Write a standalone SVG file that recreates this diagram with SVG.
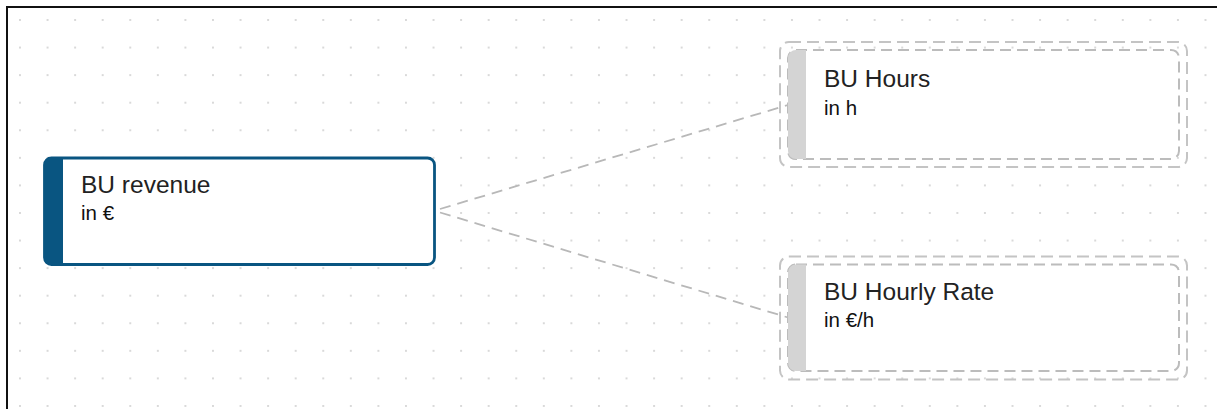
<svg xmlns="http://www.w3.org/2000/svg" width="1217" height="409" viewBox="0 0 1217 409">
  <defs>
    <pattern id="dots" patternUnits="userSpaceOnUse" x="6.2" y="6.2" width="27.57" height="27.57">
      <circle cx="13.8" cy="13.8" r="1" fill="#cccccc"/>
    </pattern>
    <style>
      .title { font-family: "Liberation Sans", Arial, sans-serif; font-size: 24.5px; fill: #222222; }
      .unit { font-family: "Liberation Sans", Arial, sans-serif; font-size: 20.5px; fill: #111111; }
      .card-main { fill: #ffffff; stroke: #095581; stroke-width: 2.8; }
      .bar-main { fill: #095581; }
      .card-input { fill: #ffffff; stroke: #bcbcbc; stroke-width: 2; stroke-dasharray: 11 6; }
      .halo { fill: none; stroke: #c4c4c4; stroke-width: 2; stroke-dasharray: 12 6; }
      .bar-input { fill: #d4d4d4; }
      .link { fill: none; stroke: #b8b8b8; stroke-width: 1.8; stroke-dasharray: 11 7; }
    </style>
  </defs>

  <!-- canvas -->
  <rect x="0" y="0" width="1217" height="409" fill="#ffffff"/>
  <rect x="7" y="7" width="1210" height="402" fill="url(#dots)"/>
  <path d="M7,409 V7 H1217" fill="none" stroke="#111111" stroke-width="2"/>

  <!-- connectors -->
  <g id="connectors">
    <line class="link" x1="440" y1="209" x2="788" y2="105"/>
    <line class="link" x1="440" y1="212.5" x2="788" y2="317.5"/>
  </g>

  <!-- result node -->
  <g id="node-bu-revenue">
    <rect class="card-main" x="44.5" y="158" width="390" height="106.5" rx="7"/>
    <path class="bar-main" d="M63,157 H51.5 A7.5,7.5 0 0 0 44,164.5 V257.5 A7.5,7.5 0 0 0 51.5,265 H63 Z"/>
    <text class="title" x="81" y="193">BU revenue</text>
    <text class="unit" x="81" y="220">in €</text>
  </g>

  <!-- input node: hours -->
  <g id="node-bu-hours">
    <rect class="halo" x="780" y="42" width="407" height="125" rx="9"/>
    <rect class="card-input" x="788" y="50" width="391" height="109" rx="8"/>
    <path class="bar-input" d="M806,50 H796 A8,8 0 0 0 788,58 V151 A8,8 0 0 0 796,159 H806 Z"/>
    <text class="title" x="824" y="87">BU Hours</text>
    <text class="unit" x="824" y="115">in h</text>
  </g>

  <!-- input node: hourly rate -->
  <g id="node-bu-hourly-rate">
    <rect class="halo" x="780" y="256.5" width="407" height="123" rx="9"/>
    <rect class="card-input" x="788" y="264.5" width="391" height="106.5" rx="8"/>
    <path class="bar-input" d="M806,264.5 H796 A8,8 0 0 0 788,272.5 V363 A8,8 0 0 0 796,371 H806 Z"/>
    <text class="title" x="824" y="300">BU Hourly Rate</text>
    <text class="unit" x="824" y="327">in €/h</text>
  </g>
</svg>
